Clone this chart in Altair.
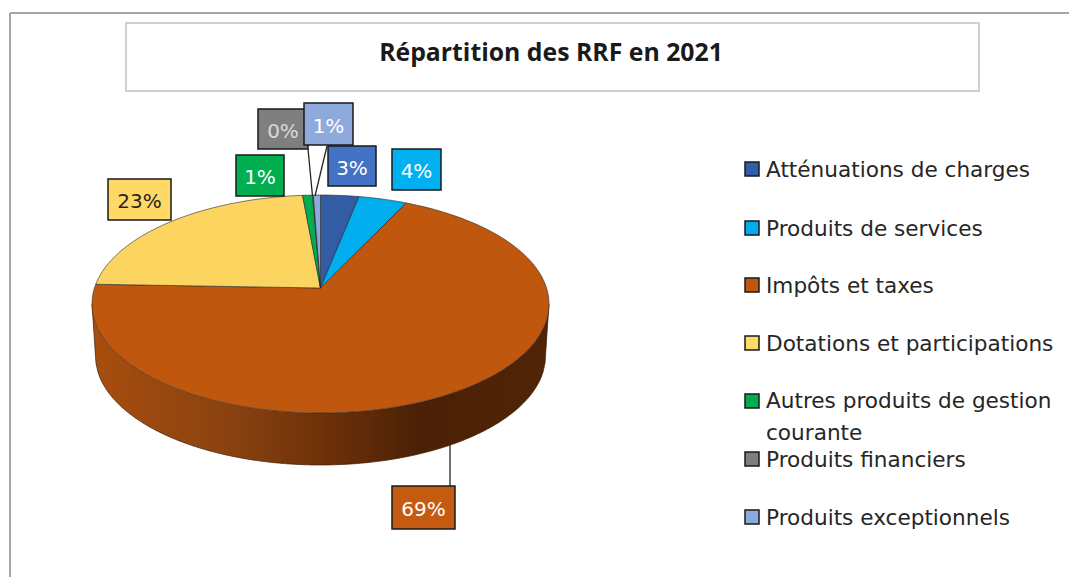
import math
import altair as alt
import pandas as pd

categories = ["Atténuations de charges", "Produits de services", "Impôts et taxes",
              "Dotations et participations", "Autres produits de gestion courante",
              "Produits financiers", "Produits exceptionnels"]
shares = [2.7, 3.5, 69.45, 23.1, 0.7, 0.05, 0.5]
pct_labels = ["3%", "4%", "69%", "23%", "1%", "0%", "1%"]
wedge_colors = ["#335CA5", "#00AEEF", "#C0570F", "#FBD560", "#00AD50", "#7F7F7F", "#8EA9DB"]
box_colors = ["#4472C4", "#00B0F0", "#C55A11", "#FFD966", "#00B050", "#7F7F7F", "#8EA9DB"]
swatch_colors = ["#2F5DA8", "#00AEEF", "#C0570F", "#FFD966", "#00AD50", "#7F7F7F", "#8EA9DB"]
text_colors = ["#FFFFFF", "#FFFFFF", "#FFFFFF", "#262626", "#FFFFFF", "#D9D9D9", "#FFFFFF"]
title_text = "Répartition des RRF en 2021"

FONT = "DejaVu Sans"
W, H = 1061, 569
OX, OY = 8, 8
AX, AY = 320.5, 288
CX, CY, RX, RY = 320.5, 304, 228.5, 109
BX, BY, BRX, BRY = 320.5, 356, 225, 109
DIRY = 93

SX = alt.Scale(domain=[OX, OX + W], nice=False, zero=False)
SY = alt.Scale(domain=[OY + H, OY], nice=False, zero=False)
xs = alt.X("x:Q", axis=None, scale=SX)
ys = alt.Y("y:Q", axis=None, scale=SY)
x2 = alt.X2("x2:Q")
y2 = alt.Y2("y2:Q")


def rim(theta):
    dx, dy = math.sin(theta) * RX, -math.cos(theta) * DIRY
    a = (dx / RX) ** 2 + (dy / RY) ** 2
    b = 2 * (AY - CY) * dy / RY ** 2
    c = ((AY - CY) / RY) ** 2 - 1
    t = (-b + math.sqrt(b * b - 4 * a * c)) / (2 * a)
    return [AX + t * dx, AY + t * dy]


features = []
acc = 0.0
for name, share in zip(categories, shares):
    start, end = acc / sum(shares) * 2 * math.pi, (acc + share) / sum(shares) * 2 * math.pi
    acc += share
    n = max(2, int(share * 4))
    ring = [[AX, AY]] + [rim(start + (end - start) * i / n) for i in range(n + 1)] + [[AX, AY]]
    features.append({"type": "Feature", "properties": {"name": name},
                     "geometry": {"type": "Polygon", "coordinates": [ring]}})

wedges = alt.Chart(alt.Data(values=features)).mark_geoshape(stroke="#262626", strokeWidth=0.6).encode(
    color=alt.Color("properties.name:N", legend=None,
                    scale=alt.Scale(domain=categories, range=wedge_colors))
).project(type="identity", scale=1, translate=[-OX, -OY])

# side wall
side_rows = []
steps = 230
for i in range(steps + 1):
    x = CX - RX + 2 * RX * i / steps
    top = CY + RY * math.sqrt(max(0, 1 - ((x - CX) / RX) ** 2))
    if abs(x - BX) <= BRX:
        low = BY + BRY * math.sqrt(max(0, 1 - ((x - BX) / BRX) ** 2))
    else:
        frac = (RX - abs(x - CX)) / (RX - BRX)
        low = CY + (BY - CY) * frac
    side_rows.append({"x": x, "y": low, "y2": top})
side_df = pd.DataFrame(side_rows)
side = alt.Chart(side_df).mark_area(
    color=alt.Gradient(gradient="linear", x1=0, x2=1, y1=0, y2=0, stops=[
        alt.GradientStop(color="#A84E0E", offset=0),
        alt.GradientStop(color="#8A4210", offset=0.3),
        alt.GradientStop(color="#6F3209", offset=0.5),
        alt.GradientStop(color="#4A2006", offset=0.72),
        alt.GradientStop(color="#512405", offset=1),
    ])
).encode(x=xs, y=ys, y2=y2)
side_line = alt.Chart(side_df).mark_line(color="#3A1A05", strokeWidth=0.7).encode(x=xs, y=ys)

# frame
frame_df = pd.DataFrame([
    {"x": 10, "x2": 10, "y": 13, "y2": OY + H},
    {"x": 10, "x2": OX + W, "y": 13, "y2": 13},
])
frame = alt.Chart(frame_df).mark_rule(color="#A6A6A6", strokeWidth=2).encode(x=xs, x2=x2, y=ys, y2=y2)
title_box = alt.Chart(pd.DataFrame([{"x": 126, "x2": 979, "y": 23, "y2": 91}])).mark_rect(
    fill="white", stroke="#D0D0D0", strokeWidth=2).encode(x=xs, x2=x2, y=ys, y2=y2)
title = alt.Chart(pd.DataFrame([{"x": 551, "y": 54, "t": title_text}])).mark_text(
    font="Open Sans", fontSize=24.8, fontWeight="bold", color="#1A1A1A").encode(x=xs, y=ys, text="t:N")

# leader lines
leaders_df = pd.DataFrame([
    {"x": 308, "x2": 312.5, "y": 149, "y2": 196},
    {"x": 327, "x2": 315, "y": 146, "y2": 196},
    {"x": 450, "x2": 450, "y": 445, "y2": 486},
])
leaders = alt.Chart(leaders_df).mark_rule(color="#262626", strokeWidth=1.3).encode(x=xs, x2=x2, y=ys, y2=y2)

# data label boxes, in category order
box_pos = [(328, 376, 146, 186), (392, 441, 149, 190), (392, 455, 486, 529), (108, 171, 179, 220),
           (236, 284, 155, 196), (258, 308, 109, 149), (304, 353, 103, 145)]
box_rows = []
for lab, fill, tc, (a, b, c, d) in zip(pct_labels, box_colors, text_colors, box_pos):
    box_rows.append({"x": a, "x2": b, "y": c, "y2": d, "mx": (a + b) / 2, "my": (c + d) / 2 + 2.5,
                     "t": lab, "fill": fill, "tc": tc})
box_df = pd.DataFrame(box_rows)
boxes = alt.Chart(box_df).mark_rect(stroke="#1A1A1A", strokeWidth=1.5).encode(
    x=xs, x2=x2, y=ys, y2=y2, fill=alt.Fill("fill:N", scale=None))
box_text = alt.Chart(box_df).mark_text(font=FONT, fontSize=20).encode(
    x=alt.X("mx:Q", axis=None, scale=SX), y=alt.Y("my:Q", axis=None, scale=SY),
    text="t:N", color=alt.Color("tc:N", scale=None))

# legend
legend_y = [169, 228, 285, 343, 401, 459, 517]
swatch_df = pd.DataFrame([
    {"x": 745, "x2": 759, "y": y - 7, "y2": y + 7, "fill": c}
    for y, c in zip(legend_y, swatch_colors)
])
swatches = alt.Chart(swatch_df).mark_rect(stroke="#1A1A1A", strokeWidth=1.5).encode(
    x=xs, x2=x2, y=ys, y2=y2, fill=alt.Fill("fill:N", scale=None))
legend_rows = []
for name, y in zip(categories, legend_y):
    if name.endswith("courante"):
        legend_rows.append({"x": 766, "y": y + 1, "t": "Autres produits de gestion"})
        legend_rows.append({"x": 766, "y": y + 33, "t": "courante"})
    else:
        legend_rows.append({"x": 766, "y": y + 2, "t": name})
legend_text = alt.Chart(pd.DataFrame(legend_rows)).mark_text(
    font=FONT, fontSize=21.6, align="left", color="#262626").encode(x=xs, y=ys, text="t:N")

chart = alt.layer(frame, title_box, title, side, side_line, wedges, leaders, boxes, box_text,
                  swatches, legend_text).properties(
    width=W, height=H, padding=0, autosize=alt.AutoSizeParams(type="none"),
    background="white",
).configure_view(stroke=None).resolve_scale(color="independent")

chart.save("out.html", embed_options={"renderer": "svg", "actions": False})
